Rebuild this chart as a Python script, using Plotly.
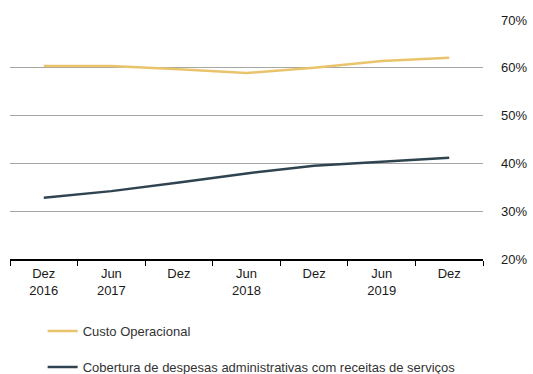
import plotly.graph_objects as go

periodos = ["Dez 2016", "Jun 2017", "Dez 2017", "Jun 2018", "Dez 2018", "Jun 2019", "Dez 2019"]
rotulos = ["Dez<br>2016", "Jun<br>2017", "Dez", "Jun<br>2018", "Dez", "Jun<br>2019", "Dez"]
custo_operacional = [60.4, 60.4, 59.7, 58.9, 60.0, 61.4, 62.1]
cobertura = [32.8, 34.2, 36.0, 37.9, 39.5, 40.4, 41.2]

fig = go.Figure()
fig.add_trace(go.Scatter(
    x=periodos, y=custo_operacional,
    name="Custo Operacional", legendgroup="a",
    mode="lines", line=dict(color="#E9C46C", width=2.5),
))
fig.add_trace(go.Scatter(
    x=periodos, y=cobertura,
    name="Cobertura de despesas administrativas com receitas de serviços", legendgroup="b",
    mode="lines", line=dict(color="#2F4450", width=2.5),
))

fig.update_xaxes(
    type="category", range=[-0.5, 6.5],
    tickvals=periodos, ticktext=rotulos,
    tickson="boundaries", ticks="outside", ticklen=5, tickcolor="black",
    showline=True, linecolor="black", linewidth=1.5,
    showgrid=False, zeroline=False, automargin=False,
    ticklabelstandoff=2,
)
fig.update_yaxes(
    side="right", range=[20, 70], dtick=10, ticksuffix="%",
    showgrid=True, gridcolor="#A6A6A6", gridwidth=1,
    zeroline=False, ticks="", ticklabelstandoff=17, automargin=False,
)
fig.update_layout(
    width=533, height=374,
    margin=dict(l=10, r=50, t=20, b=115, autoexpand=False),
    plot_bgcolor="white", paper_bgcolor="white",
    font=dict(family="Liberation Sans, Arial", size=13, color="#1a1a1a"),
    showlegend=True,
    legend=dict(
        xref="container", x=0.08, xanchor="left",
        yref="container", y=0.155, yanchor="top",
        traceorder="grouped", tracegroupgap=16,
        font=dict(size=13, color="#333"),
        bgcolor="rgba(0,0,0,0)",
    ),
)

# a página tem margem padrão de 8px no body
fig.write_html("out.html", config={"displayModeBar": False},
               post_script="document.body.style.margin='0';")
